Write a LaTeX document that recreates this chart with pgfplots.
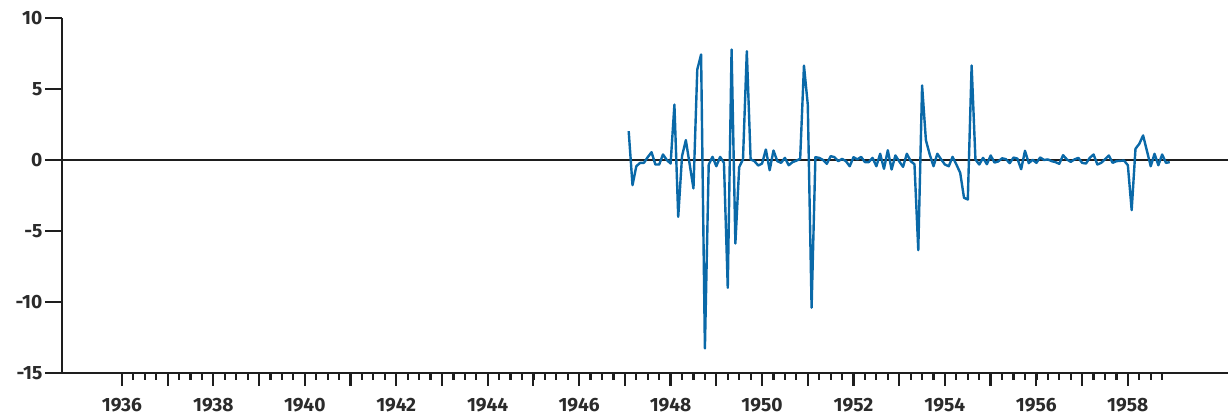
\documentclass[border=0pt]{standalone}
\usepackage{pgfplots}
\pgfplotsset{compat=1.18}
\usepackage{pgfplotstable}
\usepackage{fontspec}
\setmainfont{Fira Sans}
\definecolor{serblue}{HTML}{0A69A8}
\definecolor{txt}{HTML}{2B2B2B}
\definecolor{axl}{HTML}{1E1E1E}
\pgfplotstableread{
yr mo v
1947 2 2.03
1947 3 -1.77
1947 4 -0.44
1947 5 -0.2
1947 6 -0.2
1947 7 0.2
1947 8 0.55
1947 9 -0.32
1947 10 -0.32
1947 11 0.39
1947 12 0.0
1948 1 -0.25
1948 2 3.9
1948 3 -4.0
1948 4 0.27
1948 5 1.4
1948 6 -0.3
1948 7 -2.0
1948 8 6.37
1948 9 7.43
1948 10 -13.27
1948 11 -0.32
1948 12 0.22
1949 1 -0.44
1949 2 0.22
1949 3 -0.2
1949 4 -9.0
1949 5 7.78
1949 6 -5.88
1949 7 -0.5
1949 8 0.05
1949 9 7.66
1949 10 0.04
1949 11 -0.08
1949 12 -0.39
1950 1 -0.25
1950 2 0.74
1950 3 -0.72
1950 4 0.67
1950 5 -0.08
1950 6 -0.2
1950 7 0.15
1950 8 -0.37
1950 9 -0.15
1950 10 -0.05
1950 11 0.08
1950 12 6.65
1951 1 3.9
1951 2 -10.4
1951 3 0.2
1951 4 0.15
1951 5 0.0
1951 6 -0.27
1951 7 0.27
1951 8 0.2
1951 9 -0.08
1951 10 0.08
1951 11 -0.08
1951 12 -0.44
1952 1 0.2
1952 2 0.04
1952 3 0.22
1952 4 -0.15
1952 5 -0.15
1952 6 0.15
1952 7 -0.44
1952 8 0.44
1952 9 -0.62
1952 10 0.69
1952 11 -0.67
1952 12 0.32
1953 1 -0.1
1953 2 -0.48
1953 3 0.44
1953 4 -0.08
1953 5 -0.3
1953 6 -6.35
1953 7 5.25
1953 8 1.4
1953 9 0.39
1953 10 -0.44
1953 11 0.44
1953 12 0.04
1954 1 -0.32
1954 2 -0.44
1954 3 0.22
1954 4 -0.32
1954 5 -0.9
1954 6 -2.66
1954 7 -2.78
1954 8 6.65
1954 9 0.04
1954 10 -0.32
1954 11 0.15
1954 12 -0.3
1955 1 0.32
1955 2 -0.18
1955 3 -0.1
1955 4 0.12
1955 5 0.06
1955 6 -0.22
1955 7 0.17
1955 8 0.1
1955 9 -0.65
1955 10 0.65
1955 11 -0.22
1955 12 0.02
1956 1 -0.2
1956 2 0.18
1956 3 0.0
1956 4 0.04
1956 5 -0.08
1956 6 -0.15
1956 7 -0.27
1956 8 0.34
1956 9 0.04
1956 10 -0.13
1956 11 0.04
1956 12 0.15
1957 1 -0.2
1957 2 -0.25
1957 3 0.15
1957 4 0.39
1957 5 -0.32
1957 6 -0.2
1957 7 0.05
1957 8 0.32
1957 9 -0.2
1957 10 -0.08
1957 11 -0.06
1957 12 -0.04
1958 1 -0.37
1958 2 -3.53
1958 3 0.79
1958 4 1.14
1958 5 1.73
1958 6 0.65
1958 7 -0.44
1958 8 0.44
1958 9 -0.37
1958 10 0.39
1958 11 -0.2
1958 12 -0.15
}\datatab
\begin{document}
\begin{tikzpicture}
\begin{axis}[
  at={(0,0)}, anchor=south west,
  scale only axis, width=583pt, height=177.5pt,
  xmin=1934.69, xmax=1960.19, ymin=-15, ymax=10,
  axis lines=left,
  axis line style={-, line width=1.4pt, axl},
  ytick={-15,-10,...,10},
  xtick={1936,...,1958},
  xticklabels={1936,,1938,,1940,,1942,,1944,,1946,,1948,,1950,,1952,,1954,,1956,,1958},
  minor xtick={1936.25,1936.5,...,1958.75},
  tick align=outside,
  major tick length=6.3pt,
  minor tick length=3.3pt,
  ytick style={/pgfplots/major tick length=8.5pt},
  every tick/.style={axl, line width=1.1pt},
  /pgf/number format/assume math mode=true,
  ticklabel style={font=\fontsize{9.6}{10}\selectfont\bfseries, text=txt},
  xticklabel style={yshift=-3pt},
  clip=false,
]
\draw[axl, line width=1.3pt] (axis cs:1934.69,0) -- (axis cs:1960.19,0);
\addplot[serblue, line width=1.2pt, mark=none, line join=round] table[x expr=\thisrow{yr}+(\thisrow{mo}-1)/12, y=v] {\datatab};
\end{axis}
\pgfresetboundingbox
\path (-31pt,-22pt) rectangle (583pt,186.5pt);
\end{tikzpicture}
\end{document}
